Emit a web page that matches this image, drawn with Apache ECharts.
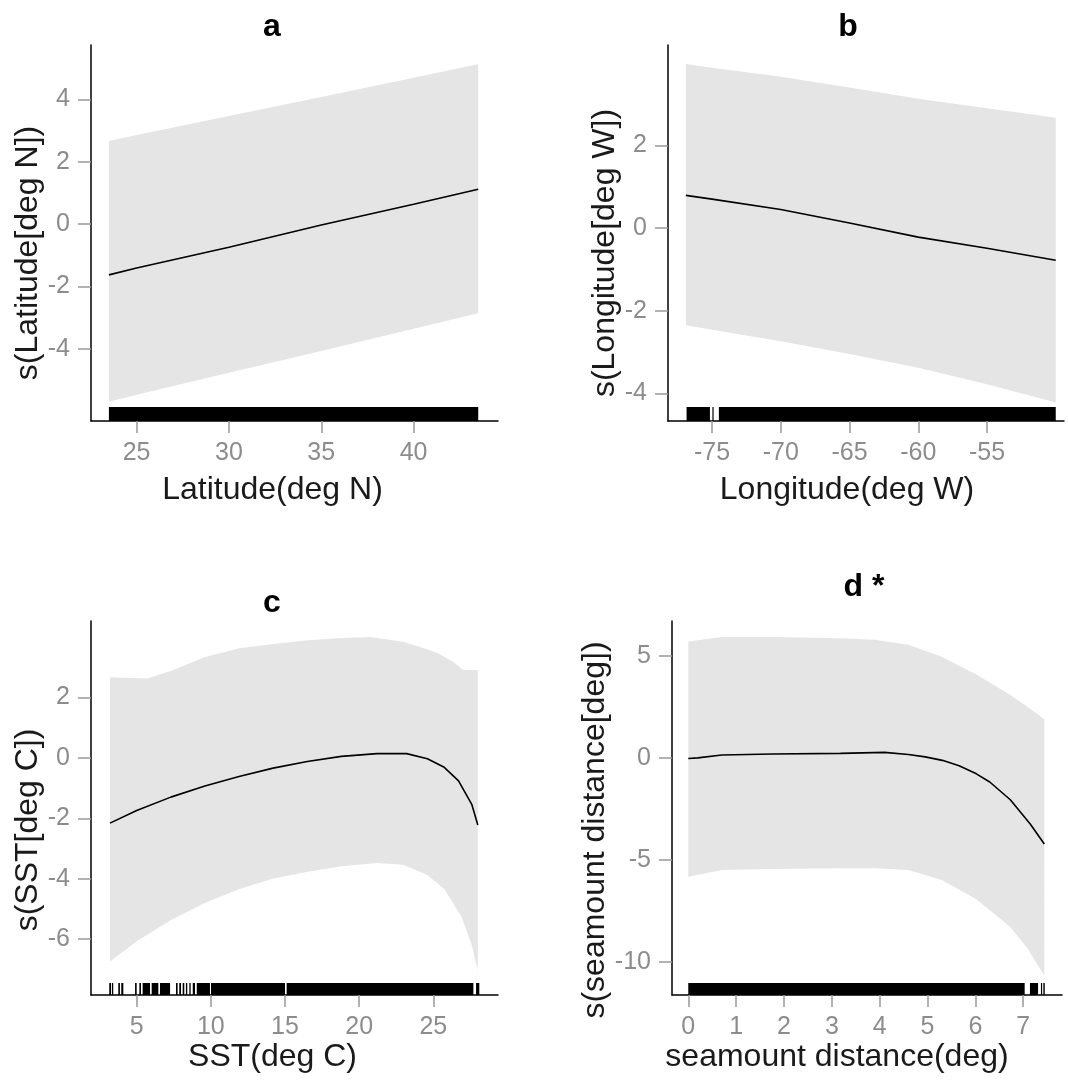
<!DOCTYPE html>
<html>
<head>
<meta charset="utf-8">
<script src="https://cdn.jsdelivr.net/npm/echarts@6/dist/echarts.min.js"></script>
<style>
  html, body { margin: 0; padding: 0; background: #ffffff; }
  #chart { width: 1068px; height: 1086px; }
</style>
</head>
<body>
<div id="chart"></div>
<script>
// ---- a: smooth of latitude ----
const latFitX   = [23.5, 25, 30, 35, 40, 43.5];
const latFit    = [-1.63, -1.41, -0.74, -0.03, 0.64, 1.12];
const latUpper  = [2.67, 2.86, 3.47, 4.08, 4.70, 5.13];
const latLower  = [-5.70, -5.48, -4.77, -4.07, -3.36, -2.86];
const latRug    = [[23.5, 43.5]];
const latXTicks = [25, 30, 35, 40];
const latYTicks = [-4, -2, 0, 2, 4];

// ---- b: smooth of longitude ----
const lonFitX   = [-76.9, -75, -70, -65, -60, -55, -50];
const lonFit    = [0.79, 0.70, 0.45, 0.12, -0.22, -0.49, -0.78];
const lonUpper  = [3.97, 3.88, 3.66, 3.40, 3.13, 2.90, 2.67];
const lonLower  = [-2.35, -2.46, -2.74, -3.05, -3.38, -3.78, -4.22];
const lonRug    = [[-76.85, -75.15], [-74.97, -74.90], [-74.5, -50.0]];
const lonXTicks = [-75, -70, -65, -60, -55];
const lonYTicks = [-4, -2, 0, 2];

// ---- c: smooth of sea surface temperature ----
const sstFitX   = [3.2, 5.0, 7.3, 9.6, 11.9, 14.2, 16.5, 18.8, 21.2, 23.2, 24.6, 25.7, 26.7, 27.6, 28.0];
const sstFit    = [-2.16, -1.74, -1.30, -0.93, -0.62, -0.34, -0.12, 0.05, 0.14, 0.14, -0.03, -0.30, -0.76, -1.55, -2.22];
const sstUpperX = [3.2, 5.71, 7.32, 9.62, 11.93, 14.23, 16.53, 18.83, 20.73, 22.96, 24.1, 25.25, 26.33, 27.0, 28.0];
const sstUpper  = [2.67, 2.63, 2.88, 3.34, 3.63, 3.77, 3.89, 3.97, 4.00, 3.84, 3.67, 3.48, 3.18, 2.91, 2.91];
const sstLowerX = [3.2, 5.02, 7.32, 9.62, 11.93, 14.23, 16.53, 18.83, 21.2, 22.97, 24.59, 25.74, 26.89, 27.58, 28.0];
const sstLower  = [-6.74, -6.06, -5.37, -4.80, -4.34, -3.99, -3.77, -3.59, -3.48, -3.54, -3.88, -4.34, -5.25, -6.17, -7.03];
const sstRug    = [[3.15, 3.27], [3.33, 3.42], [3.76, 3.87], [3.96, 4.10], [4.89, 5.0], [5.18, 5.29],
                   [5.4, 5.9], [6.01, 6.46], [6.57, 7.25], [7.65, 7.76], [7.87, 7.99], [8.1, 8.21],
                   [8.32, 8.41], [8.55, 8.64], [8.78, 8.93], [9.05, 9.94], [10.01, 15.0], [15.11, 27.7],
                   [27.88, 28.1]];
const sstXTicks = [5, 10, 15, 20, 25];
const sstYTicks = [-6, -4, -2, 0, 2];

// ---- d: smooth of seamount distance ----
const seaFitX   = [0, 0.2, 0.7, 1.76, 3.18, 4.1, 4.6, 4.95, 5.31, 5.66, 6.02, 6.30, 6.73, 7.15, 7.44];
const seaFit    = [-0.03, 0.0, 0.14, 0.19, 0.22, 0.27, 0.17, 0.05, -0.12, -0.38, -0.78, -1.18, -2.05, -3.25, -4.22];
const seaUpperX = [0, 0.70, 1.76, 3.18, 3.89, 4.60, 5.31, 6.02, 6.73, 7.15, 7.44];
const seaUpper  = [5.70, 5.93, 5.93, 5.87, 5.79, 5.54, 4.94, 4.09, 3.08, 2.40, 1.89];
const seaLowerX = [0, 0.70, 1.76, 3.18, 3.89, 4.60, 4.95, 5.31, 6.02, 6.73, 7.08, 7.44];
const seaLower  = [-5.83, -5.49, -5.44, -5.41, -5.41, -5.49, -5.74, -6.0, -6.93, -8.29, -9.31, -10.66];
const seaRug    = [[0, 7.03], [7.14, 7.31], [7.37, 7.39], [7.42, 7.45]];
const seaXTicks = [0, 1, 2, 3, 4, 5, 6, 7];
const seaYTicks = [-10, -5, 0, 5];

const FONT = '"Liberation Sans", Arial, sans-serif';

const panels = [
  {
    title: 'a', titleX: 272, titleY: 27,
    grid: { left: 91, top: 45, width: 407, height: 376 },
    xRange: [22.53, 44.57], yRange: [-6.32, 5.75],
    xTicks: latXTicks, yTicks: latYTicks,
    xName: 'Latitude(deg N)', yName: 's(Latitude[deg N])',
    xNameGap: 53, yNameGap: 41, xShift: 44, yShift: 40,
    fitX: latFitX, fit: latFit,
    upX: latFitX, up: latUpper, loX: latFitX, lo: latLower,
    rug: latRug, rugH: 14
  },
  {
    title: 'b', titleX: 848, titleY: 27,
    grid: { left: 668, top: 45, width: 396, height: 376 },
    xRange: [-78.2, -49.4], yRange: [-4.67, 4.43],
    xTicks: lonXTicks, yTicks: lonYTicks,
    xName: 'Longitude(deg W)', yName: 's(Longitude[deg W])',
    xNameGap: 53, yNameGap: 44, xShift: 38, yShift: 40,
    fitX: lonFitX, fit: lonFit,
    upX: lonFitX, up: lonUpper, loX: lonFitX, lo: lonLower,
    rug: lonRug, rugH: 14
  },
  {
    title: 'c', titleX: 272, titleY: 603,
    grid: { left: 91, top: 621, width: 407, height: 374 },
    xRange: [1.92, 29.36], yRange: [-7.85, 4.53],
    xTicks: sstXTicks, yTicks: sstYTicks,
    xName: 'SST(deg C)', yName: 's(SST[deg C])',
    xNameGap: 43, yNameGap: 41, xShift: 44, yShift: 44,
    fitX: sstFitX, fit: sstFit,
    upX: sstUpperX, up: sstUpper, loX: sstLowerX, lo: sstLower,
    rug: sstRug, rugH: 12
  },
  {
    title: 'd *', titleX: 864, titleY: 587,
    grid: { left: 672, top: 621, width: 390, height: 374 },
    xRange: [-0.34, 7.81], yRange: [-11.62, 6.71],
    xTicks: seaXTicks, yTicks: seaYTicks,
    xName: 'seamount distance(deg)', yName: 's(seamount distance[deg])',
    xNameGap: 43, yNameGap: 58, xShift: 60, yShift: 44,
    fitX: seaFitX, fit: seaFit,
    upX: seaUpperX, up: seaUpper, loX: seaLowerX, lo: seaLower,
    rug: seaRug, rugH: 12
  }
];

const zip = (xs, ys) => xs.map((x, i) => [x, ys[i]]);

const option = {
  animation: false,
  backgroundColor: '#ffffff',
  grid: [], xAxis: [], yAxis: [], series: [], graphic: []
};

panels.forEach((p, i) => {
  option.grid.push(Object.assign({ containLabel: false }, p.grid));

  option.xAxis.push({
    type: 'value', gridIndex: i, min: p.xRange[0], max: p.xRange[1],
    axisLine: { show: true, onZero: false, lineStyle: { color: '#000', width: 1.5 } },
    axisTick: { show: true, customValues: p.xTicks, length: 12, lineStyle: { color: '#999', width: 1.5 } },
    axisLabel: { customValues: p.xTicks, margin: 20, color: '#8c8c8c', fontSize: 25, fontFamily: FONT },
    splitLine: { show: false },
    name: p.xName, nameLocation: 'middle', nameGap: p.xNameGap,
    nameTextStyle: { fontSize: 32, color: '#1a1a1a', fontFamily: FONT, padding: [0, p.xShift, 0, 0] }
  });

  option.yAxis.push({
    type: 'value', gridIndex: i, min: p.yRange[0], max: p.yRange[1],
    axisLine: { show: true, onZero: false, lineStyle: { color: '#000', width: 1.5 } },
    axisTick: { show: true, customValues: p.yTicks, length: 13, lineStyle: { color: '#999', width: 1.5 } },
    axisLabel: { customValues: p.yTicks, margin: 21, color: '#8c8c8c', fontSize: 25, fontFamily: FONT },
    splitLine: { show: false },
    name: p.yName, nameLocation: 'middle', nameGap: p.yNameGap,
    nameTextStyle: { fontSize: 32, color: '#1a1a1a', fontFamily: FONT, padding: [0, p.yShift, 0, 0] }
  });

  // confidence band as one polygon: upper edge left to right, lower edge back
  option.series.push({
    type: 'custom', xAxisIndex: i, yAxisIndex: i, z: 1, silent: true,
    data: [[p.upX[0], p.up[0]]],
    renderItem: function (params, api) {
      const pts = p.upX.map((x, k) => api.coord([x, p.up[k]]));
      for (let k = p.loX.length - 1; k >= 0; k--) pts.push(api.coord([p.loX[k], p.lo[k]]));
      return { type: 'polygon', shape: { points: pts }, style: { fill: '#e5e5e5', stroke: null } };
    }
  });

  // fitted smooth, drawn as a polyline through the sampled points
  option.series.push({
    type: 'line', xAxisIndex: i, yAxisIndex: i, z: 3, silent: true,
    data: zip(p.fitX, p.fit), showSymbol: false, symbol: 'none',
    smooth: false,
    lineStyle: { color: '#000', width: 1.6 }
  });

  // rug of observations along the x axis
  option.series.push({
    type: 'custom', xAxisIndex: i, yAxisIndex: i, z: 4, silent: true,
    data: p.rug,
    renderItem: function (params, api) {
      const x0 = api.coord([api.value(0), 0])[0];
      const x1 = api.coord([api.value(1), 0])[0];
      const bottom = params.coordSys.y + params.coordSys.height;
      return {
        type: 'rect',
        shape: { x: x0, y: bottom - p.rugH, width: Math.max(1.2, x1 - x0), height: p.rugH },
        style: { fill: '#000' }
      };
    }
  });

  option.graphic.push({
    type: 'text', x: p.titleX, y: p.titleY, silent: true,
    style: { text: p.title, fill: '#000', font: 'bold 32px ' + FONT, align: 'center', verticalAlign: 'middle' }
  });
});

const chart = echarts.init(document.getElementById('chart'), null, { renderer: 'canvas' });
chart.setOption(option);
</script>
</body>
</html>
